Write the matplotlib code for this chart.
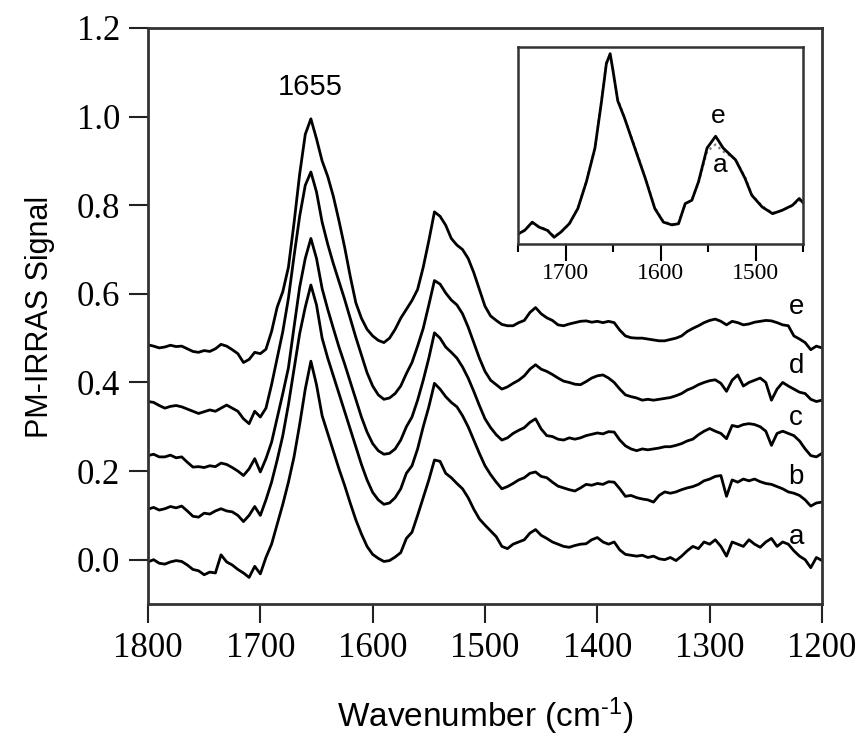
import numpy as np
import matplotlib
matplotlib.use("Agg")
import matplotlib.pyplot as plt

# ---------------- data ----------------
wavenumber = np.arange(1800, 1199, -5)

trace_a = [
    -0.005, 0.000, -0.008, -0.010, -0.005, -0.002, -0.004, -0.012, -0.022, -0.025,
    -0.034, -0.028, -0.030, 0.011, -0.005, -0.012, -0.022, -0.030, -0.040, -0.015,
    -0.032, 0.005, 0.035, 0.080, 0.125, 0.175, 0.232, 0.305, 0.385, 0.448,
    0.395, 0.325, 0.285, 0.245, 0.205, 0.168, 0.128, 0.090, 0.058, 0.030,
    0.012, 0.003, -0.004, -0.002, 0.006, 0.016, 0.048, 0.062, 0.100, 0.140,
    0.180, 0.225, 0.222, 0.195, 0.185, 0.172, 0.160, 0.140, 0.114, 0.092,
    0.078, 0.065, 0.052, 0.030, 0.025, 0.035, 0.040, 0.045, 0.060, 0.068,
    0.055, 0.048, 0.040, 0.035, 0.030, 0.028, 0.032, 0.035, 0.036, 0.045,
    0.050, 0.040, 0.035, 0.040, 0.022, 0.012, 0.010, 0.008, 0.010, 0.005,
    0.008, 0.002, 0.000, 0.005, -0.002, 0.008, 0.020, 0.030, 0.025, 0.040,
    0.035, 0.045, 0.030, 0.008, 0.040, 0.035, 0.030, 0.045, 0.035, 0.028,
    0.040, 0.048, 0.030, 0.040, 0.035, 0.020, 0.008, 0.000, -0.018, 0.005,
    -0.002]

trace_b = [
    0.114, 0.118, 0.112, 0.115, 0.120, 0.117, 0.121, 0.110, 0.098, 0.096,
    0.105, 0.103, 0.110, 0.115, 0.110, 0.108, 0.100, 0.086, 0.100, 0.120,
    0.100, 0.135, 0.175, 0.225, 0.280, 0.350, 0.430, 0.510, 0.570, 0.620,
    0.575, 0.500, 0.455, 0.415, 0.375, 0.335, 0.295, 0.255, 0.215, 0.180,
    0.152, 0.135, 0.125, 0.128, 0.140, 0.160, 0.195, 0.212, 0.250, 0.300,
    0.345, 0.398, 0.385, 0.368, 0.355, 0.345, 0.325, 0.300, 0.270, 0.240,
    0.212, 0.192, 0.175, 0.160, 0.165, 0.172, 0.180, 0.185, 0.195, 0.198,
    0.188, 0.185, 0.175, 0.166, 0.162, 0.158, 0.155, 0.162, 0.170, 0.168,
    0.172, 0.170, 0.176, 0.175, 0.160, 0.143, 0.145, 0.140, 0.137, 0.135,
    0.130, 0.145, 0.153, 0.150, 0.153, 0.158, 0.162, 0.165, 0.170, 0.178,
    0.182, 0.188, 0.190, 0.143, 0.180, 0.175, 0.182, 0.178, 0.182, 0.176,
    0.172, 0.170, 0.165, 0.160, 0.153, 0.150, 0.145, 0.135, 0.121, 0.128,
    0.130]

trace_c = [
    0.235, 0.238, 0.232, 0.232, 0.236, 0.230, 0.232, 0.220, 0.209, 0.210,
    0.208, 0.212, 0.210, 0.218, 0.215, 0.208, 0.200, 0.190, 0.205, 0.228,
    0.198, 0.228, 0.265, 0.320, 0.375, 0.433, 0.525, 0.615, 0.680, 0.725,
    0.680, 0.612, 0.565, 0.522, 0.480, 0.442, 0.402, 0.362, 0.322, 0.288,
    0.262, 0.246, 0.238, 0.240, 0.250, 0.270, 0.300, 0.322, 0.360, 0.405,
    0.455, 0.512, 0.500, 0.480, 0.468, 0.455, 0.435, 0.410, 0.380, 0.348,
    0.318, 0.298, 0.282, 0.270, 0.275, 0.285, 0.292, 0.298, 0.310, 0.318,
    0.295, 0.280, 0.278, 0.272, 0.270, 0.275, 0.272, 0.275, 0.280, 0.283,
    0.286, 0.284, 0.289, 0.288, 0.270, 0.257, 0.250, 0.246, 0.250, 0.248,
    0.250, 0.252, 0.255, 0.255, 0.258, 0.262, 0.268, 0.272, 0.282, 0.290,
    0.296, 0.290, 0.285, 0.273, 0.303, 0.300, 0.305, 0.307, 0.305, 0.300,
    0.290, 0.258, 0.285, 0.290, 0.285, 0.280, 0.268, 0.250, 0.235, 0.232,
    0.240]

trace_d = [
    0.357, 0.355, 0.348, 0.342, 0.346, 0.348, 0.345, 0.340, 0.335, 0.330,
    0.334, 0.338, 0.335, 0.342, 0.349, 0.342, 0.335, 0.318, 0.307, 0.335,
    0.322, 0.342, 0.395, 0.455, 0.515, 0.590, 0.685, 0.775, 0.845, 0.875,
    0.830, 0.762, 0.712, 0.668, 0.628, 0.588, 0.545, 0.502, 0.462, 0.422,
    0.392, 0.372, 0.362, 0.365, 0.375, 0.392, 0.420, 0.445, 0.482, 0.522,
    0.575, 0.630, 0.622, 0.602, 0.586, 0.575, 0.555, 0.525, 0.490, 0.455,
    0.425, 0.405, 0.395, 0.385, 0.390, 0.398, 0.405, 0.415, 0.430, 0.440,
    0.430, 0.425, 0.418, 0.410, 0.403, 0.400, 0.396, 0.395, 0.402, 0.410,
    0.415, 0.417, 0.410, 0.400, 0.385, 0.372, 0.368, 0.365, 0.360, 0.362,
    0.360, 0.362, 0.364, 0.366, 0.370, 0.375, 0.383, 0.388, 0.395, 0.400,
    0.404, 0.406, 0.398, 0.380, 0.405, 0.417, 0.392, 0.400, 0.405, 0.410,
    0.400, 0.360, 0.385, 0.400, 0.392, 0.385, 0.378, 0.375, 0.362, 0.357,
    0.360]

trace_e = [
    0.485, 0.482, 0.478, 0.480, 0.484, 0.481, 0.482, 0.476, 0.470, 0.468,
    0.472, 0.470, 0.476, 0.486, 0.482, 0.474, 0.465, 0.445, 0.452, 0.468,
    0.465, 0.475, 0.515, 0.570, 0.605, 0.660, 0.760, 0.870, 0.960, 0.995,
    0.950, 0.900, 0.865, 0.820, 0.765, 0.706, 0.640, 0.580, 0.545, 0.520,
    0.505, 0.495, 0.490, 0.500, 0.520, 0.545, 0.565, 0.585, 0.610, 0.660,
    0.720, 0.785, 0.775, 0.755, 0.725, 0.710, 0.700, 0.680, 0.648, 0.610,
    0.572, 0.550, 0.540, 0.531, 0.528, 0.528, 0.535, 0.540, 0.558, 0.569,
    0.555, 0.546, 0.540, 0.530, 0.528, 0.532, 0.535, 0.538, 0.539, 0.536,
    0.538, 0.535, 0.538, 0.535, 0.518, 0.505, 0.501, 0.500, 0.500, 0.498,
    0.496, 0.494, 0.494, 0.497, 0.500, 0.505, 0.515, 0.522, 0.528, 0.535,
    0.540, 0.543, 0.538, 0.530, 0.538, 0.535, 0.530, 0.532, 0.536, 0.538,
    0.540, 0.539, 0.535, 0.530, 0.528, 0.505, 0.498, 0.490, 0.474, 0.482,
    0.478]

traces = [trace_a, trace_b, trace_c, trace_d, trace_e]
trace_names = ["a", "b", "c", "d", "e"]
name_y = [0.052, 0.187, 0.319, 0.437, 0.570]
name_x = 1223

x_ticks = [1800, 1700, 1600, 1500, 1400, 1300, 1200]
y_ticks = [0.0, 0.2, 0.4, 0.6, 0.8, 1.0, 1.2]
y_tick_labels = ["0.0", "0.2", "0.4", "0.6", "0.8", "1.0", "1.2"]
peak_label = "1655"
peak_pos = (1656, 1.066)

# inset (normalised spectra e and a)
inset_wn = [1750, 1743, 1735, 1728, 1719, 1712, 1705, 1696, 1687, 1678,
            1669, 1662, 1657, 1653, 1650, 1645, 1638, 1627, 1616, 1606,
            1597, 1588, 1581, 1574, 1567, 1560, 1551, 1542, 1534, 1521,
            1511, 1504, 1493, 1482, 1472, 1461, 1454, 1450]
inset_e = [0.051, 0.069, 0.111, 0.086, 0.069, 0.034, 0.060, 0.103, 0.180, 0.316,
           0.487, 0.727, 0.915, 0.966, 0.880, 0.727, 0.641, 0.487, 0.333, 0.180,
           0.111, 0.097, 0.103, 0.205, 0.222, 0.316, 0.487, 0.547, 0.487, 0.427,
           0.333, 0.248, 0.188, 0.154, 0.171, 0.197, 0.231, 0.210]
inset_a = [0.045, 0.072, 0.105, 0.090, 0.072, 0.040, 0.058, 0.100, 0.185, 0.320,
           0.490, 0.735, 0.920, 0.960, 0.885, 0.735, 0.645, 0.492, 0.338, 0.185,
           0.115, 0.100, 0.108, 0.200, 0.225, 0.310, 0.470, 0.505, 0.470, 0.430,
           0.340, 0.252, 0.192, 0.158, 0.170, 0.195, 0.225, 0.205]
inset_major = [1700, 1600, 1500]
inset_minor = [1750, 1650, 1550, 1450]
inset_labels = [("e", 1539, 0.65), ("a", 1537, 0.40)]

# ---------------- figure ----------------
plt.rcParams['mathtext.default'] = 'regular'
plt.rcParams['mathtext.fontset'] = 'custom'
plt.rcParams['mathtext.rm'] = 'Liberation Sans'
W, H = 862, 744
fig = plt.figure(figsize=(W / 100, H / 100), dpi=100)
ax = fig.add_axes([148 / W, 1 - 604 / H, (822 - 148) / W, (604 - 28) / H])

for tr in traces:
    ax.plot(wavenumber, tr, color='black', lw=2.0, solid_joinstyle='round')

ax.set_xlim(1800, 1200)
ax.set_ylim(-0.1, 1.2)
ax.set_xticks(x_ticks)
ax.set_yticks(y_ticks)
ax.set_yticklabels(y_tick_labels)
ax.tick_params(direction='out', length=14, width=1.5, labelsize=25, pad=6,
               color='#222222')
for lbl in ax.get_xticklabels() + ax.get_yticklabels():
    lbl.set_fontfamily('Liberation Serif')
for sp in ax.spines.values():
    sp.set_linewidth(2.0)
    sp.set_color('#333333')

for name, yv in zip(trace_names, name_y):
    ax.text(name_x, yv, name, ha='center', va='center', fontsize=20,
            family='Liberation Sans')
ax.text(peak_pos[0], peak_pos[1], peak_label, ha='center', va='center',
        fontsize=21, family='Liberation Sans')

fig.text(485 / W, 1 - 716 / H, 'Wavenumber (cm$^{\u2010 1}$)', ha='center',
         va='center', fontsize=24, family='Liberation Sans')
fig.text(40 / W, 1 - 317 / H, 'PM-IRRAS Signal', ha='center', va='center',
         rotation=90, fontsize=22, family='Liberation Sans')

# inset
axi = fig.add_axes([518 / W, 1 - 244 / H, (803 - 518) / W, (244 - 47) / H])
axi.plot(inset_wn, inset_a, color='#777777', lw=1.6, ls=':')
axi.plot(inset_wn, inset_e, color='black', lw=2.0)
axi.set_xlim(1750, 1450)
axi.set_ylim(0, 1)
axi.set_yticks([])
axi.set_xticks(inset_major)
axi.set_xticks(inset_minor, minor=True)
axi.tick_params(axis='x', which='major', direction='out', length=12, width=1.5,
                labelsize=17, pad=2)
axi.tick_params(axis='x', which='minor', direction='out', length=6, width=1.5)
for lbl in axi.get_xticklabels():
    lbl.set_fontfamily('Liberation Serif')
for sp in axi.spines.values():
    sp.set_linewidth(1.8)
    sp.set_color('#333333')
for t, xv, yv in inset_labels:
    axi.text(xv, yv, t, ha='center', va='center', fontsize=19,
             family='Liberation Sans')

fig.savefig('out.png', dpi=100)
